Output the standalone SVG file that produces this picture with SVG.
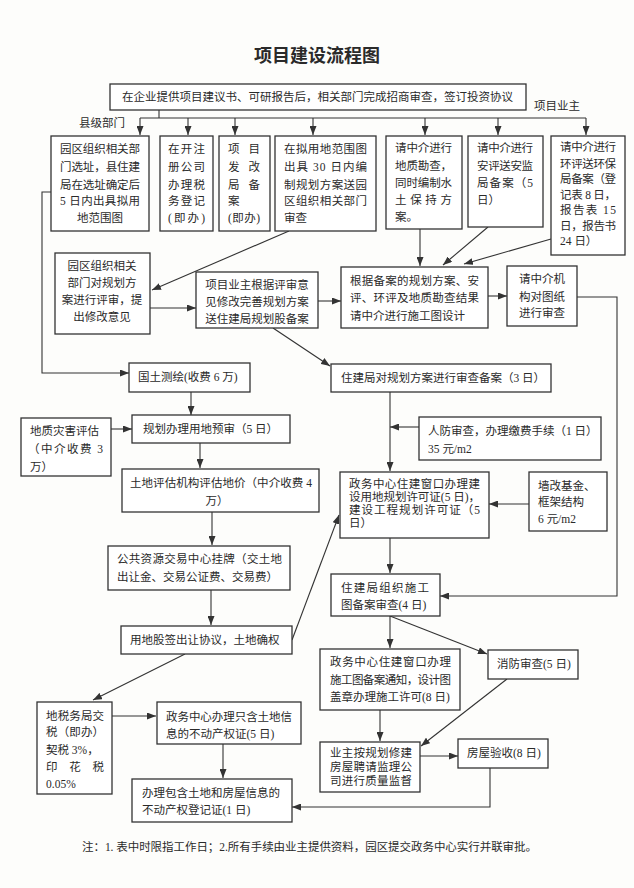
<svg xmlns="http://www.w3.org/2000/svg" width="634" height="888" viewBox="0 0 634 888">
<style>
text{font-family:"Liberation Serif","Noto Sans CJK SC",serif;font-size:11.5px;fill:#2a2a2a}
.c{text-anchor:middle}
.b rect{fill:#fff;stroke:#333;stroke-width:1.3}
#connectors path{fill:none;stroke:#333;stroke-width:1.1;marker-end:url(#ah)}
#connectors path.n{marker-end:none}
.title{font-size:18px;font-weight:bold}
</style>
<defs><marker id="ah" markerUnits="userSpaceOnUse" markerWidth="9" markerHeight="7" refX="9" refY="3.5" orient="auto"><path d="M0,0 L9,3.5 L0,7 z" fill="#333"/></marker></defs>
<rect width="634" height="888" fill="#fdfdfb"/>
<text class="c title" x="317" y="62">项目建设流程图</text>
<text class="c" x="102" y="127">县级部门</text>
<text class="c" x="557" y="110">项目业主</text>

<g id="connectors">
<path class="n" d="M159 110V118M140 118H586"/>
<path d="M140 118V135"/><path d="M188 118V135"/><path d="M235 118V135"/><path d="M313 118V135"/>
<path d="M425 118V135"/><path d="M498 118V135"/><path d="M586 118V135"/>
<path d="M289 231L152 290"/>
<path d="M150 308H196"/>
<path d="M318 301H341"/>
<path d="M488 296H507"/>
<path d="M420 229V266"/>
<path d="M488 227L443 265"/>
<path d="M551 239L464 264"/>
<path d="M577 297H617V596H440"/>
<path d="M51 192H42V373H129"/>
<path d="M273 328L330 366"/>
<path d="M191 392V415"/>
<path d="M111 429H132"/>
<path d="M200 443V468"/>
<path d="M212 503V545"/>
<path d="M211 590V625"/>
<path d="M292 640L339 515"/>
<path d="M390 392V471"/>
<path d="M419 427H390"/>
<path d="M529 504H489"/>
<path d="M390 538V573"/>
<path d="M390 616V648"/>
<path d="M390 616L487 654"/>
<path d="M380 710V741"/>
<path d="M507 679L421 746"/>
<path d="M420 756H458"/>
<path d="M490 768V807H292"/>
<path d="M185 654L93 700"/>
<path d="M112 716H156"/>
<path d="M223 744V778"/>
</g>

<g id="top" class="b"><rect x="110" y="84" width="416" height="26"/><text x="122" y="101" textLength="391">在企业提供项目建议书、可研报告后，相关部门完成招商审查，签订投资协议</text></g>

<g id="n1" class="b"><rect x="51" y="136" width="98" height="95"/>
<text x="60" y="153" textLength="80">园区组织相关部</text><text x="60" y="171" textLength="80">门选址，县住建</text><text x="60" y="189" textLength="80">局在选址确定后</text><text x="60" y="205" textLength="80">5 日内出具拟用</text><text class="c" x="100" y="222">地范围图</text></g>

<g id="n2" class="b"><rect x="160" y="136" width="53" height="95"/>
<text x="168" y="153" textLength="37">在开注</text><text x="168" y="171" textLength="37">册公司</text><text x="168" y="189" textLength="37">办理税</text><text x="168" y="205" textLength="37">务登记</text><text x="168" y="222" textLength="37">(即办)</text></g>

<g id="n3" class="b"><rect x="219" y="136" width="51" height="95"/>
<text x="228" y="153" textLength="32">项目</text><text x="228" y="171" textLength="32">发改</text><text x="228" y="189" textLength="32">局备</text><text x="228" y="205">案</text><text x="228" y="222" textLength="32">(即办)</text></g>

<g id="n4" class="b"><rect x="275" y="136" width="101" height="95"/>
<text x="284" y="153" textLength="83">在拟用地范围图</text><text x="284" y="171" textLength="83">出具 30 日内编</text><text x="284" y="189" textLength="83">制规划方案送园</text><text x="284" y="205" textLength="83">区组织相关部门</text><text x="284" y="222">审查</text></g>

<g id="n5" class="b"><rect x="386" y="136" width="76" height="93"/>
<text x="395" y="152" textLength="57">请中介进行</text><text x="395" y="170" textLength="57">地质勘查，</text><text x="395" y="187" textLength="57">同时编制水</text><text x="395" y="204" textLength="57">土保持方</text><text x="395" y="221">案。</text></g>

<g id="n6" class="b"><rect x="468" y="136" width="75" height="91"/>
<text x="477" y="152" textLength="56">请中介进行</text><text x="477" y="170" textLength="56">安评送安监</text><text x="477" y="187" textLength="56">局备案（5</text><text x="477" y="204">日）</text></g>

<g id="n7" class="b"><rect x="551" y="136" width="74" height="119"/>
<text x="560" y="151" textLength="56">请中介进行</text><text x="560" y="168" textLength="56">环评送环保</text><text x="560" y="183" textLength="56">局备案（登</text><text x="560" y="199" textLength="56">记表 8 日，</text><text x="560" y="214" textLength="56">报告表 15</text><text x="560" y="230" textLength="56">日，报告书</text><text x="560" y="245">24 日）</text></g>

<g id="n8" class="b"><rect x="55" y="253" width="95" height="81"/>
<text class="c" x="102" y="270">园区组织相关</text><text class="c" x="102" y="287">部门对规划方</text><text class="c" x="102" y="304">案进行评审，提</text><text class="c" x="102" y="321">出修改意见</text></g>

<g id="n9" class="b"><rect x="196" y="272" width="122" height="56"/>
<text class="c" x="257" y="289">项目业主根据评审意</text><text class="c" x="257" y="306">见修改完善规划方案</text><text class="c" x="257" y="323">送住建局规划股备案</text></g>

<g id="n10" class="b"><rect x="341" y="267" width="147" height="61"/>
<text x="350" y="285" textLength="129">根据备案的规划方案、安</text><text x="350" y="302" textLength="129">评、环评及地质勘查结果</text><text x="350" y="320">请中介进行施工图设计</text></g>

<g id="n11" class="b"><rect x="507" y="266" width="70" height="60"/>
<text class="c" x="542" y="283">请中介机</text><text class="c" x="542" y="301">构对图纸</text><text class="c" x="542" y="317">进行审查</text></g>

<g id="n12" class="b"><rect x="129" y="363" width="121" height="29"/><text x="138" y="381">国土测绘(收费 6 万)</text></g>
<g id="n13" class="b"><rect x="331" y="364" width="220" height="28"/><text x="341" y="382">住建局对规划方案进行审查备案（3 日）</text></g>
<g id="n14" class="b"><rect x="132" y="415" width="158" height="28"/><text x="143" y="433">规划办理用地预审（5 日）</text></g>
<g id="n15" class="b"><rect x="21" y="418" width="90" height="58"/>
<text x="30" y="435">地质灾害评估</text><text x="28" y="453" textLength="75">（中介收费 3</text><text x="30" y="471">万）</text></g>
<g id="n16" class="b"><rect x="122" y="469" width="197" height="43"/>
<text x="130" y="487" textLength="182">土地评估机构评估地价（中介收费 4</text><text class="c" x="217" y="505">万）</text></g>
<g id="n17" class="b"><rect x="108" y="546" width="182" height="44"/>
<text x="117" y="563" textLength="165">公共资源交易中心挂牌（交土地</text><text x="117" y="581">出让金、交易公证费、交易费）</text></g>
<g id="n18" class="b"><rect x="121" y="626" width="171" height="28"/><text x="130" y="644">用地股签出让协议，土地确权</text></g>

<g id="n19" class="b"><rect x="419" y="417" width="182" height="43"/>
<text x="428" y="435">人防审查，办理缴费手续（1 日）</text><text x="428" y="453">35 元/m2</text></g>
<g id="n20" class="b"><rect x="340" y="472" width="149" height="66"/>
<text x="349" y="488" textLength="131">政务中心住建窗口办理建</text><text x="349" y="501" textLength="131">设用地规划许可证(5 日)，</text><text x="349" y="514" textLength="131">建设工程规划许可证（5</text><text x="349" y="527">日）</text></g>
<g id="n21" class="b"><rect x="529" y="472" width="78" height="59"/>
<text x="538" y="490">墙改基金、</text><text x="538" y="506">框架结构</text><text x="538" y="523">6 元/m2</text></g>
<g id="n22" class="b"><rect x="331" y="574" width="109" height="42"/>
<text x="341" y="592" textLength="88">住建局组织施工</text><text x="341" y="609">图备案审查(4 日)</text></g>

<g id="n23" class="b"><rect x="37" y="702" width="75" height="92"/>
<text x="46" y="720" textLength="58">地税务局交</text><text x="46" y="736" textLength="58">税（即办）</text><text x="46" y="754">契税 3%，</text><text x="46" y="771" textLength="58">印花税</text><text x="46" y="788">0.05%</text></g>
<g id="n24" class="b"><rect x="157" y="702" width="144" height="42"/>
<text x="166" y="721" textLength="126">政务中心办理只含土地信</text><text x="166" y="738">息的不动产权证(5 日)</text></g>
<g id="n25" class="b"><rect x="132" y="779" width="160" height="43"/>
<text x="142" y="797">办理包含土地和房屋信息的</text><text x="142" y="814">不动产权登记证(1 日)</text></g>

<g id="n26" class="b"><rect x="320" y="649" width="140" height="61"/>
<text x="330" y="666" textLength="121">政务中心住建窗口办理</text><text x="330" y="684" textLength="121">施工图备案通知，设计图</text><text x="330" y="701">盖章办理施工许可(8 日)</text></g>
<g id="n27" class="b"><rect x="488" y="650" width="90" height="29"/><text x="497" y="668">消防审查(5 日)</text></g>
<g id="n28" class="b"><rect x="320" y="742" width="100" height="50"/>
<text x="330" y="757" textLength="82">业主按规划修建</text><text x="330" y="771" textLength="82">房屋聘请监理公</text><text x="330" y="785" textLength="82">司进行质量监督</text></g>
<g id="n29" class="b"><rect x="458" y="739" width="90" height="29"/><text x="467" y="757">房屋验收(8 日)</text></g>

<text x="82" y="851" textLength="455">注：1. 表中时限指工作日；2.所有手续由业主提供资料，园区提交政务中心实行并联审批。</text>
</svg>
